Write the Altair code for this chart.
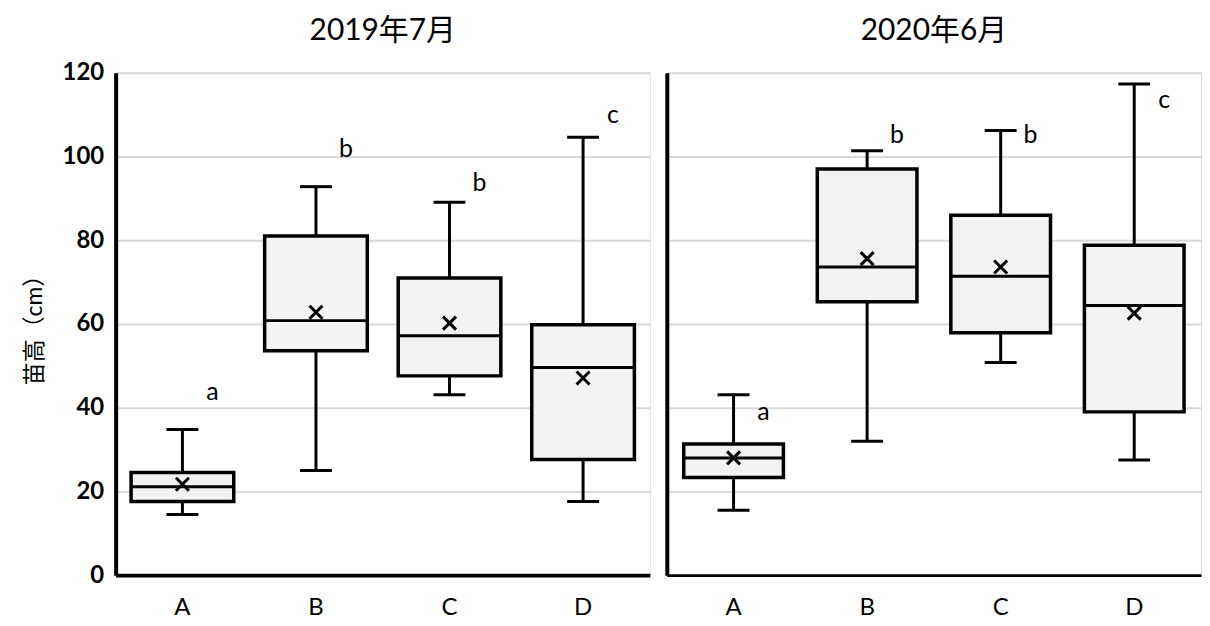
import altair as alt
import pandas as pd

categories = ["A", "B", "C", "D"]
titles = ["2019年7月", "2020年6月"]

low_2019 = [14.5, 25.0, 43.1, 17.6]
q1_2019 = [17.6, 53.6, 47.6, 27.6]
med_2019 = [21.1, 60.8, 57.2, 49.6]
q3_2019 = [24.5, 81.0, 71.0, 59.8]
high_2019 = [34.8, 92.8, 89.1, 104.6]
mean_2019 = [21.7, 62.8, 60.2, 47.1]
letters_2019 = ["a", "b", "b", "c"]
letter_y_2019 = [43.8, 101.9, 93.6, 110.0]

low_2020 = [15.5, 32.0, 50.8, 27.5]
q1_2020 = [23.3, 65.3, 57.9, 39.0]
med_2020 = [28.0, 73.6, 71.4, 64.4]
q3_2020 = [31.3, 97.0, 86.0, 78.8]
high_2020 = [43.1, 101.4, 106.2, 117.3]
mean_2020 = [28.0, 75.6, 73.6, 62.6]
letters_2020 = ["a", "b", "b", "c"]
letter_y_2020 = [39.0, 105.2, 105.2, 113.6]

FONT = "Lato, Noto Sans CJK JP"


def panel(title, low, q1, med, q3, high, mean, letters, ly, first):
    df = pd.DataFrame({
        "cat": categories, "low": low, "q1": q1, "med": med, "q3": q3,
        "high": high, "mean": mean, "letter": letters, "ly": ly,
    })
    x = alt.X("cat:N", sort=categories, title=None,
              scale=alt.Scale(paddingInner=0, paddingOuter=0),
              axis=alt.Axis(labelAngle=0, ticks=False, labelFontSize=24,
                            labelFont=FONT, labelPadding=21, labelColor="black",
                            domainColor="black", domainWidth=4 if first else 3))
    yscale = alt.Scale(domain=[0, 120], nice=False)
    if first:
        yaxis = alt.Axis(values=[0, 20, 40, 60, 80, 100, 120], ticks=False,
                         labelFontSize=24, labelFontWeight="bold", labelFont=FONT,
                         labelColor="black", labelPadding=12,
                         title="苗高（cm）", titleFontSize=23, titleFontWeight="normal",
                         titleFont=FONT, titleColor="black", titlePadding=16,
                         domainColor="black", domainWidth=4,
                         gridColor="#d9d9d9", gridWidth=2)
    else:
        yaxis = alt.Axis(values=[0, 20, 40, 60, 80, 100, 120], ticks=False,
                         labels=False, title=None,
                         domainColor="black", domainWidth=4,
                         gridColor="#d9d9d9", gridWidth=2)
    y_low = alt.Y("low:Q", scale=yscale, axis=yaxis)
    bw = 103 if first else 100

    base = alt.Chart(df)
    whisk = base.mark_rule(color="black", strokeWidth=3).encode(x=x, y=y_low, y2="high:Q")
    cap_lo = base.mark_tick(color="black", thickness=3, size=32, opacity=1).encode(
        x=x, y=alt.Y("low:Q", scale=yscale))
    cap_hi = base.mark_tick(color="black", thickness=3, size=32, opacity=1).encode(
        x=x, y=alt.Y("high:Q", scale=yscale))
    box = base.mark_bar(fill="#f2f2f2", stroke="black", strokeWidth=3.5,
                        size=bw).encode(
        x=x, y=alt.Y("q1:Q", scale=yscale), y2="q3:Q")
    median = base.mark_tick(color="black", thickness=3, size=bw, opacity=1).encode(
        x=x, y=alt.Y("med:Q", scale=yscale))
    meanpt = base.mark_point(shape="M -1 -1 L 1 1 M 1 -1 L -1 1", filled=False,
                             stroke="black", strokeWidth=3, size=170,
                             opacity=1).encode(
        x=x, y=alt.Y("mean:Q", scale=yscale))
    text = base.mark_text(dx=30, fontSize=25, font=FONT, color="black").encode(
        x=x, y=alt.Y("ly:Q", scale=yscale), text="letter:N")

    return alt.layer(whisk, cap_lo, cap_hi, box, median, meanpt, text).properties(
        width=536, height=504,
        title=alt.TitleParams(title, fontSize=30, fontWeight="normal", font=FONT,
                              color="black", offset=15 if first else 27,
                              anchor="middle"))


left = panel(titles[0], low_2019, q1_2019, med_2019, q3_2019, high_2019,
             mean_2019, letters_2019, letter_y_2019, True)
right = panel(titles[1], low_2020, q1_2020, med_2020, q3_2020, high_2020,
              mean_2020, letters_2020, letter_y_2020, False)

chart = alt.hconcat(left, right, spacing=15).configure_view(
    stroke="black", strokeWidth=1.5
).configure(background="white", padding={"left": 14, "top": 6, "right": 0, "bottom": 0})

chart.save("out.html", embed_options={"renderer": "svg", "actions": False})
